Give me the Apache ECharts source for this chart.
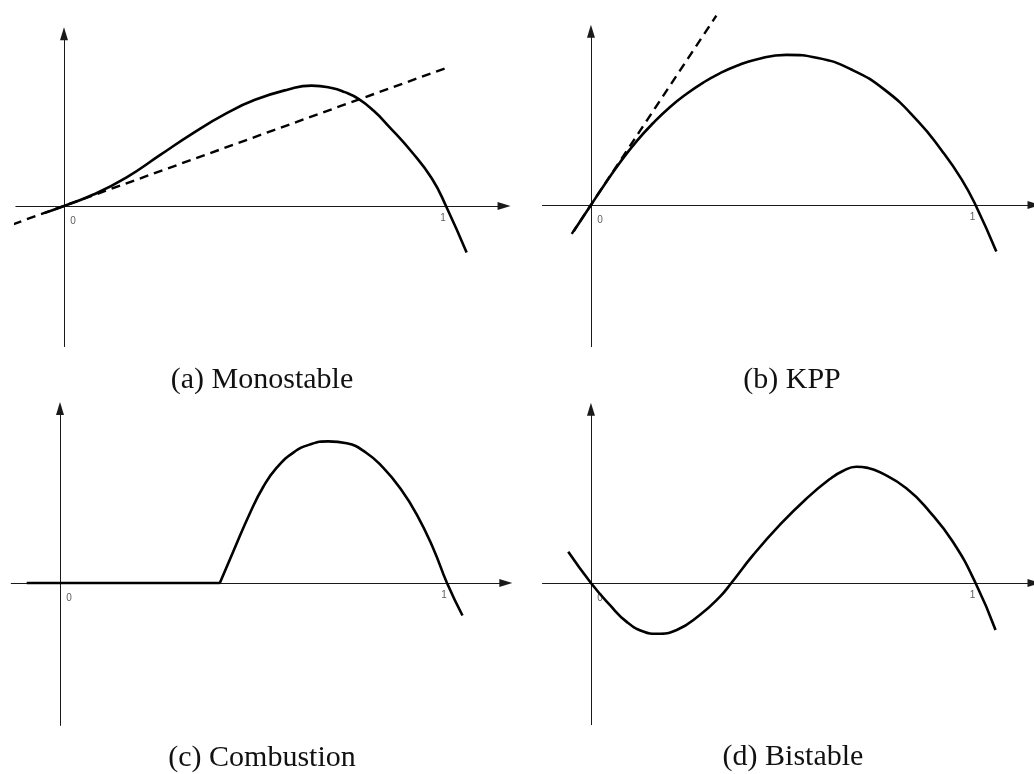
<!DOCTYPE html>
<html>
<head>
<meta charset="utf-8">
<script src="https://cdn.jsdelivr.net/npm/echarts@6/dist/echarts.min.js"></script>
<style>
  html, body { margin: 0; padding: 0; background: #fff; }
  #chart { width: 1034px; height: 774px; }
</style>
</head>
<body>
<div id="chart"></div>
<script>
// reaction terms f(u): u on x, f(u) on y
var captions = ['(a) Monostable', '(b) KPP', '(c) Combustion', '(d) Bistable'];
var tickValues = [0, 1];
var tickLabels = ['0', '1'];

var monostableCurve = [
  [-0.05, -0.018], [0, 0], [0.077, 0.03], [0.164, 0.075], [0.251, 0.133], [0.338, 0.191],
  [0.426, 0.243], [0.5, 0.278], [0.587, 0.305], [0.648, 0.315], [0.701, 0.309],
  [0.735, 0.298], [0.77, 0.281], [0.81, 0.25], [0.849, 0.21], [0.91, 0.142],
  [0.963, 0.072], [1, 0], [1.054, -0.122]
];
var monostableTangent = [[-0.134, -0.048], [1.005, 0.363]];

var kppCurve = [
  [-0.045, -0.068], [0, 0], [0.032, 0.048], [0.075, 0.11], [0.119, 0.166], [0.162, 0.213],
  [0.205, 0.254], [0.249, 0.289], [0.292, 0.318], [0.335, 0.342], [0.378, 0.361],
  [0.43, 0.378], [0.508, 0.39], [0.59, 0.382], [0.677, 0.352], [0.764, 0.299],
  [0.85, 0.218], [0.911, 0.143], [0.963, 0.068], [1, 0], [1.054, -0.121]
];
var kppTangent = [[-0.05, -0.075], [0.326, 0.492]];

var combustionFlat = [[-0.086, 0], [0.413, 0]];
var combustionCurve = [
  [0.413, 0], [0.448, 0.082], [0.491, 0.181], [0.525, 0.248], [0.56, 0.298], [0.603, 0.337],
  [0.646, 0.358], [0.693, 0.366], [0.741, 0.361], [0.792, 0.336], [0.835, 0.298],
  [0.879, 0.245], [0.922, 0.177], [0.965, 0.088], [1, 0], [1.04, -0.084]
];

var bistableCurve = [
  [-0.059, 0.081], [0, 0], [0.049, -0.057], [0.093, -0.101], [0.136, -0.126], [0.171, -0.132],
  [0.223, -0.122], [0.283, -0.083], [0.335, -0.036], [0.365, 0], [0.422, 0.073],
  [0.491, 0.151], [0.56, 0.219], [0.621, 0.27], [0.655, 0.291], [0.69, 0.302],
  [0.72, 0.299], [0.751, 0.288], [0.82, 0.246], [0.881, 0.185], [0.941, 0.107],
  [1, 0], [1.052, -0.122]
];

var panelLines = [
  [{ data: monostableCurve }, { data: monostableTangent, dashed: true }],
  [{ data: kppCurve }, { data: kppTangent, dashed: true }],
  [{ data: combustionFlat, straight: true }, { data: combustionCurve }],
  [{ data: bistableCurve }]
];

// layout: origin of each panel in px and px per unit
var panels = [
  { ox: 64, oy: 206, u: 382, cap: [262, 380] },
  { ox: 591, oy: 205, u: 385, cap: [792, 380] },
  { ox: 60, oy: 583, u: 387, cap: [262, 758] },
  { ox: 591, oy: 583, u: 385, cap: [793, 757] }
];
var xMin = -0.126, xMax = 1.152, yMin = -0.368, yMax = 0.451;

var grid = [], xAxis = [], yAxis = [], series = [], graphic = [];

panels.forEach(function (p, i) {
  grid.push({
    left: p.ox + xMin * p.u,
    top: p.oy - yMax * p.u,
    width: (xMax - xMin) * p.u,
    height: (yMax - yMin) * p.u
  });
  var axisCommon = {
    type: 'value',
    gridIndex: i,
    axisLine: {
      show: true,
      onZero: true,
      symbol: ['none', 'triangle'],
      symbolSize: [8, 13],
      lineStyle: { color: '#1a1a1a', width: 1 }
    },
    axisTick: { show: false },
    axisLabel: { show: false },
    splitLine: { show: false }
  };
  xAxis.push(Object.assign({}, axisCommon, { min: xMin, max: xMax }));
  yAxis.push(Object.assign({}, axisCommon, { min: yMin, max: yMax }));

  panelLines[i].forEach(function (l) {
    series.push({
      type: 'line',
      xAxisIndex: i,
      yAxisIndex: i,
      data: l.data,
      showSymbol: false,
      symbol: 'none',
      smooth: l.dashed || l.straight ? false : 0.5,
      clip: false,
      silent: true,
      z: l.dashed ? 3 : 4,
      lineStyle: l.dashed
        ? { color: '#000', width: 2.4, type: [9, 6] }
        : { color: '#000', width: 2.6 }
    });
  });

  series.push({
    type: 'scatter',
    xAxisIndex: i,
    yAxisIndex: i,
    symbolSize: 0,
    silent: true,
    data: tickValues.map(function (v, k) {
      return {
        value: [v, 0],
        label: { offset: k === 0 ? [9, 15] : [-3, 12] }
      };
    }),
    label: {
      show: true,
      position: 'inside',
      color: '#333',
      fontSize: 10,
      fontFamily: 'Liberation Sans',
      formatter: function (d) { return tickLabels[d.dataIndex]; }
    }
  });

  graphic.push({
    type: 'text',
    x: p.cap[0],
    y: p.cap[1],
    silent: true,
    style: {
      text: captions[i],
      fill: '#111',
      font: '30px "Liberation Serif"',
      textAlign: 'center',
      textVerticalAlign: 'middle'
    }
  });
});

var chart = echarts.init(document.getElementById('chart'));
chart.setOption({
  animation: false,
  backgroundColor: '#fff',
  grid: grid,
  xAxis: xAxis,
  yAxis: yAxis,
  series: series,
  graphic: graphic
});
</script>
</body>
</html>
